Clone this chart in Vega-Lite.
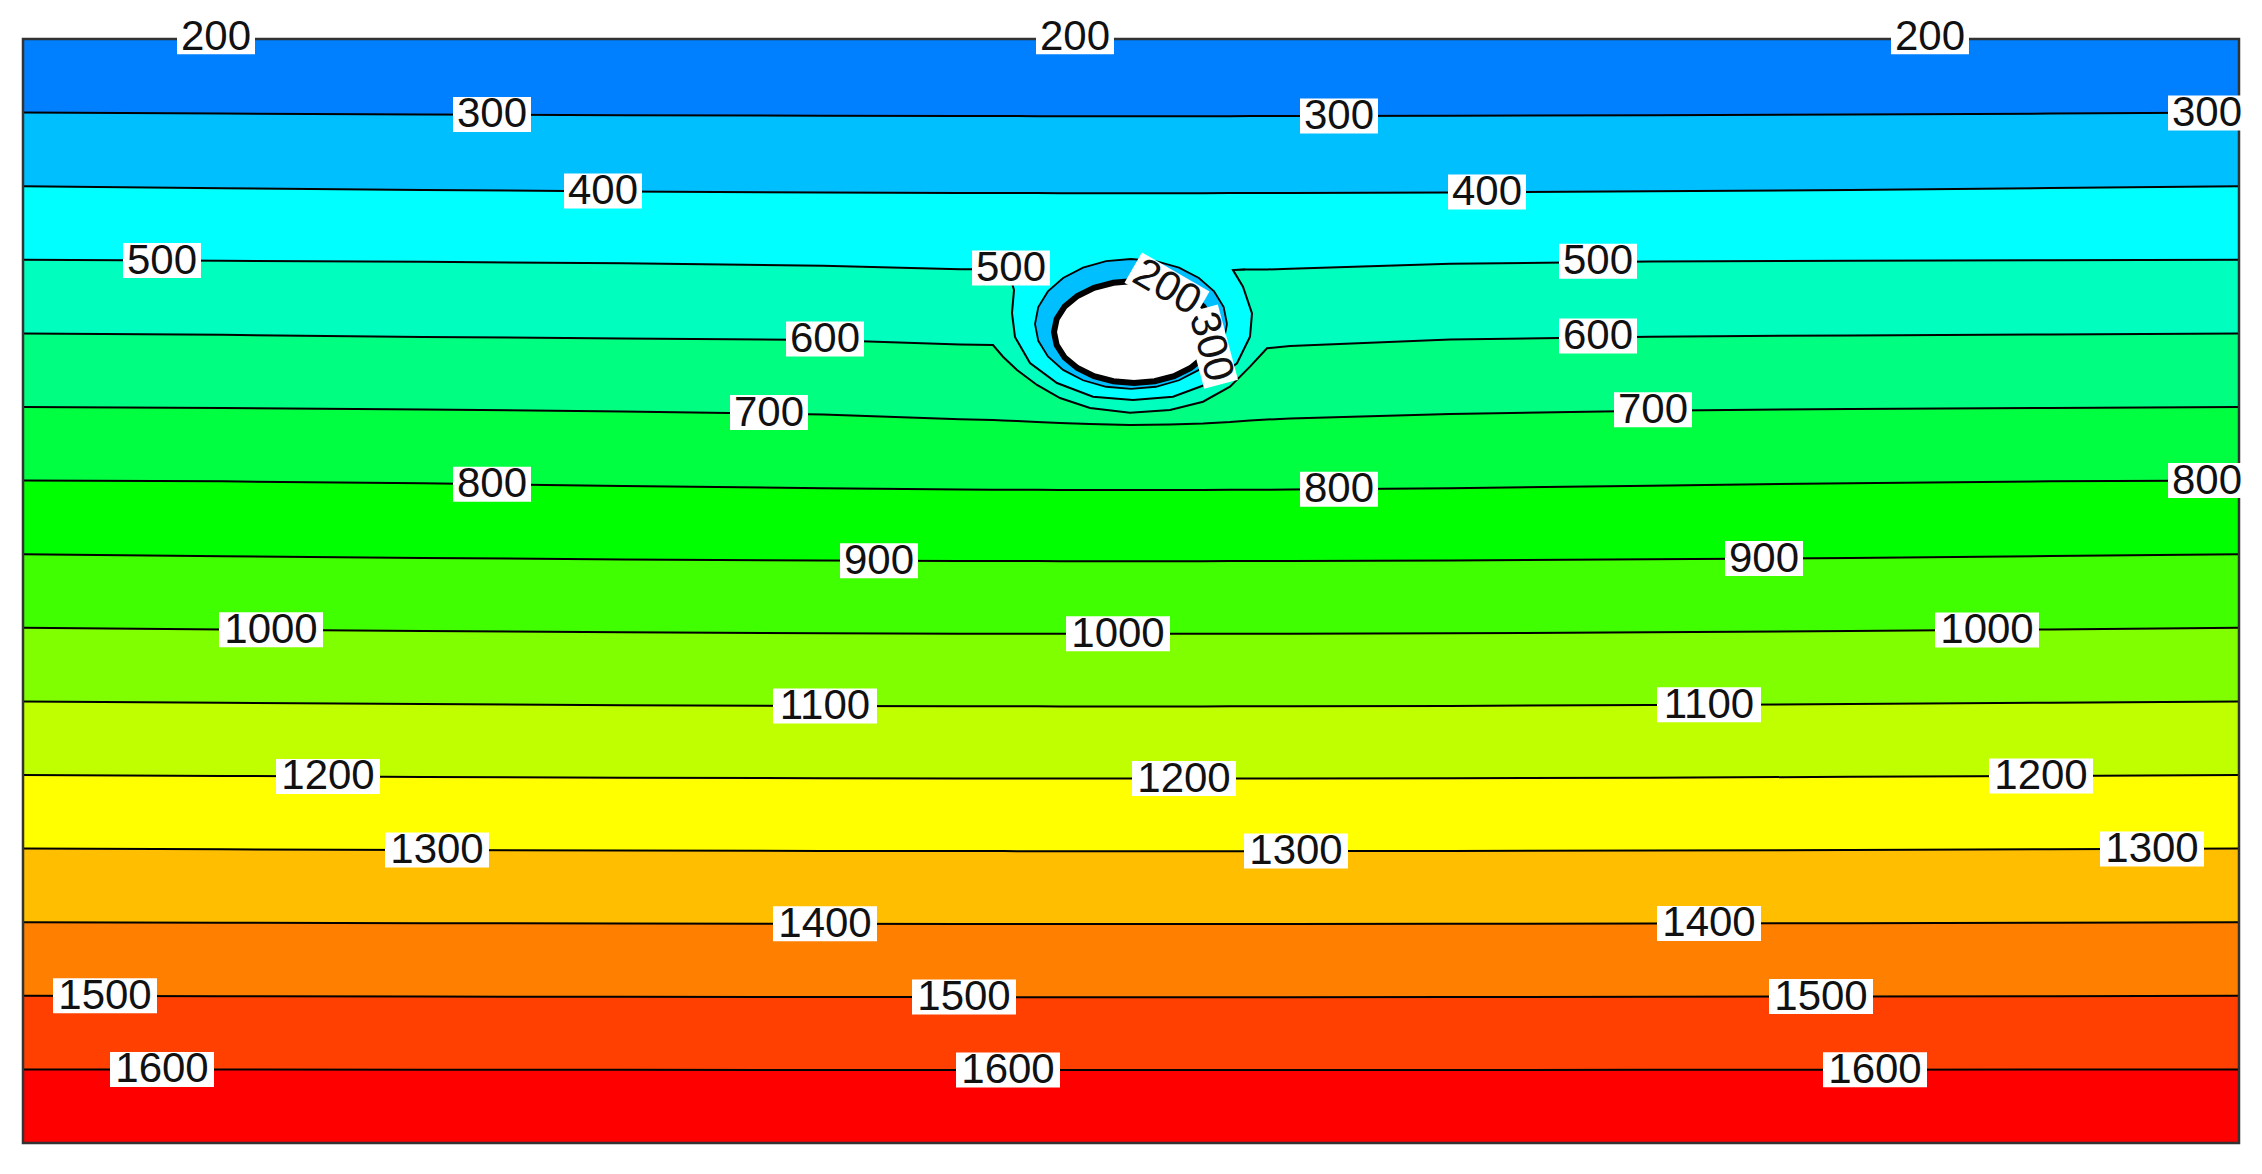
{
  "$schema": "https://vega.github.io/schema/vega-lite/v6.json",
  "width": 2216,
  "height": 1104,
  "autosize": "none",
  "padding": {"left": 23, "top": 39, "right": 23, "bottom": 31},
  "background": "white",
  "config": {"view": {"stroke": null}},
  "datasets": {
    "contours": [
      {"x":0,"L0200":200,"L0300":300,"L0400":400,"L0500":500,"L0600":600,"L0700":700,"L0800":800,"L0900":900,"L1000":1000,"L1100":1100,"L1200":1200,"L1300":1300,"L1400":1400,"L1500":1500,"L1600":1600,"L1700":1700},
      {"x":200,"L0200":200,"L0300":301.3,"L0400":402.7,"L0500":501.4,"L0600":602,"L0700":701.4,"L0800":801.0,"L0900":902.7,"L1000":1002.3,"L1100":1101.9,"L1200":1201.3,"L1300":1301.0,"L1400":1400.7,"L1500":1500.5,"L1600":1600.2,"L1700":1700},
      {"x":400,"L0200":200,"L0300":302.6,"L0400":405.1,"L0500":502.7,"L0600":604.8,"L0700":703.4,"L0800":803.7,"L0900":905.1,"L1000":1004.4,"L1100":1103.7,"L1200":1202.6,"L1300":1301.9,"L1400":1401.3,"L1500":1501.0,"L1600":1600.4,"L1700":1700},
      {"x":600,"L0200":200,"L0300":303.6,"L0400":407.1,"L0500":504.8,"L0600":606.8,"L0700":706.1,"L0800":807.2,"L0900":907.1,"L1000":1006.2,"L1100":1105.1,"L1200":1203.6,"L1300":1302.6,"L1400":1401.8,"L1500":1501.4,"L1600":1600.6,"L1700":1700},
      {"x":800,"L0200":200,"L0300":304.3,"L0400":408.6,"L0500":508.0,"L0600":608.8,"L0700":710.2,"L0800":810.5,"L0900":908.6,"L1000":1007.4,"L1100":1106.2,"L1200":1204.3,"L1300":1303.2,"L1400":1402.2,"L1500":1501.6,"L1600":1600.7,"L1700":1700},
      {"x":937,"L0200":200,"L0300":304.7,"L0400":409.2,"L0500":512.8,"L0600":615.1,"L0700":716.7,"L0800":812.1,"L0900":909.2,"L1000":1008.0,"L1100":1106.6,"L1200":1204.7,"L1300":1303.4,"L1400":1402.3,"L1500":1501.7,"L1600":1600.8,"L1700":1700},
      {"x":970,"L0200":200,"L0300":304.7,"L0400":409.3,"L0500":513.0,"L0600":615.8,"L0700":717.7,"L0800":812.3,"L0900":909.3,"L1000":1008.0,"L1100":1106.7,"L1200":1204.7,"L1300":1303.4,"L1400":1402.4,"L1500":1501.8,"L1600":1600.8,"L1700":1700},
      {"x":980,"L0200":200,"L0300":304.7,"L0400":409.3,"L0500":513.2,"L0600":631.7,"L0700":718.3,"L0800":812.4,"L0900":909.3,"L1000":1008.1,"L1100":1106.7,"L1200":1204.7,"L1300":1303.4,"L1400":1402.4,"L1500":1501.8,"L1600":1600.8,"L1700":1700},
      {"x":994,"L0200":200,"L0300":304.7,"L0400":409.4,"L0500":513.2,"L0600":649.7,"L0700":719.0,"L0800":812.5,"L0900":909.4,"L1000":1008.1,"L1100":1106.7,"L1200":1204.7,"L1300":1303.5,"L1400":1402.4,"L1500":1501.8,"L1600":1600.8,"L1700":1700},
      {"x":1014,"L0200":200,"L0300":304.8,"L0400":409.4,"L0500":513.2,"L0600":670.1,"L0700":720.4,"L0800":812.6,"L0900":909.4,"L1000":1008.1,"L1100":1106.7,"L1200":1204.8,"L1300":1303.5,"L1400":1402.4,"L1500":1501.8,"L1600":1600.8,"L1700":1700},
      {"x":1037,"L0200":200,"L0300":304.8,"L0400":409.5,"L0500":513.2,"L0600":687.8,"L0700":721.7,"L0800":812.7,"L0900":909.5,"L1000":1008.2,"L1100":1106.8,"L1200":1204.8,"L1300":1303.5,"L1400":1402.4,"L1500":1501.8,"L1600":1600.8,"L1700":1700},
      {"x":1067,"L0200":200,"L0300":304.8,"L0400":409.5,"L0500":513.2,"L0600":701.4,"L0700":723.1,"L0800":812.7,"L0900":909.5,"L1000":1008.2,"L1100":1106.8,"L1200":1204.8,"L1300":1303.5,"L1400":1402.4,"L1500":1501.8,"L1600":1600.8,"L1700":1700},
      {"x":1107,"L0200":200,"L0300":304.8,"L0400":409.5,"L0500":513.2,"L0600":707.7,"L0700":724.5,"L0800":812.8,"L0900":909.5,"L1000":1008.2,"L1100":1106.8,"L1200":1204.8,"L1300":1303.5,"L1400":1402.4,"L1500":1501.8,"L1600":1600.8,"L1700":1700},
      {"x":1147,"L0200":200,"L0300":304.8,"L0400":409.5,"L0500":513.2,"L0600":704.1,"L0700":723.8,"L0800":812.7,"L0900":909.5,"L1000":1008.2,"L1100":1106.8,"L1200":1204.8,"L1300":1303.5,"L1400":1402.4,"L1500":1501.8,"L1600":1600.8,"L1700":1700},
      {"x":1180,"L0200":200,"L0300":304.8,"L0400":409.5,"L0500":513.2,"L0600":692.8,"L0700":722.4,"L0800":812.7,"L0900":909.5,"L1000":1008.2,"L1100":1106.8,"L1200":1204.8,"L1300":1303.5,"L1400":1402.4,"L1500":1501.8,"L1600":1600.8,"L1700":1700},
      {"x":1207,"L0200":200,"L0300":304.8,"L0400":409.4,"L0500":513.2,"L0600":672.4,"L0700":720.4,"L0800":812.5,"L0900":909.4,"L1000":1008.1,"L1100":1106.7,"L1200":1204.8,"L1300":1303.5,"L1400":1402.4,"L1500":1501.8,"L1600":1600.8,"L1700":1700},
      {"x":1227,"L0200":200,"L0300":304.7,"L0400":409.4,"L0500":513.2,"L0600":645.2,"L0700":718.3,"L0800":812.4,"L0900":909.4,"L1000":1008.1,"L1100":1106.7,"L1200":1204.7,"L1300":1303.5,"L1400":1402.4,"L1500":1501.8,"L1600":1600.8,"L1700":1700},
      {"x":1244,"L0200":200,"L0300":304.7,"L0400":409.3,"L0500":513.2,"L0600":620.2,"L0700":717.0,"L0800":812.3,"L0900":909.3,"L1000":1008.1,"L1100":1106.7,"L1200":1204.7,"L1300":1303.4,"L1400":1402.4,"L1500":1501.8,"L1600":1600.8,"L1700":1700},
      {"x":1267,"L0200":200,"L0300":304.7,"L0400":409.3,"L0500":512.2,"L0600":617.1,"L0700":715.6,"L0800":812.2,"L0900":909.3,"L1000":1008.0,"L1100":1106.6,"L1200":1204.7,"L1300":1303.4,"L1400":1402.3,"L1500":1501.8,"L1600":1600.8,"L1700":1700},
      {"x":1427,"L0200":200,"L0300":304.3,"L0400":408.6,"L0500":505.4,"L0600":608.2,"L0700":709.5,"L0800":810.4,"L0900":908.6,"L1000":1007.4,"L1100":1106.1,"L1200":1204.3,"L1300":1303.2,"L1400":1402.2,"L1500":1501.6,"L1600":1600.7,"L1700":1700},
      {"x":1627,"L0200":200,"L0300":303.6,"L0400":407.0,"L0500":502.4,"L0600":604.5,"L0700":705.0,"L0800":807.0,"L0900":907.0,"L1000":1006.1,"L1100":1105.0,"L1200":1203.6,"L1300":1302.6,"L1400":1401.8,"L1500":1501.3,"L1600":1600.6,"L1700":1700},
      {"x":1827,"L0200":200,"L0300":302.5,"L0400":405.0,"L0500":501.4,"L0600":602.7,"L0700":702.7,"L0800":803.5,"L0900":905.0,"L1000":1004.3,"L1100":1103.6,"L1200":1202.5,"L1300":1301.8,"L1400":1401.3,"L1500":1500.9,"L1600":1600.4,"L1700":1700},
      {"x":2027,"L0200":200,"L0300":301.3,"L0400":402.5,"L0500":500.7,"L0600":601.4,"L0700":701.4,"L0800":800.9,"L0900":902.5,"L1000":1002.2,"L1100":1101.8,"L1200":1201.3,"L1300":1300.9,"L1400":1400.6,"L1500":1500.5,"L1600":1600.2,"L1700":1700},
      {"x":2216,"L0200":200,"L0300":300,"L0400":400,"L0500":500,"L0600":600,"L0700":700,"L0800":800,"L0900":900,"L1000":1000,"L1100":1100,"L1200":1200,"L1300":1300,"L1400":1400,"L1500":1500,"L1600":1600,"L1700":1700}
    ],
    "lobe": [
      {"i":0,"x":972,"y":512.9},{"i":1,"x":987,"y":522.0},{"i":2,"x":991,"y":541.0},{"i":3,"x":989,"y":572.3},
      {"i":4,"x":992,"y":604.9},{"i":5,"x":1007,"y":640.2},{"i":6,"x":1034,"y":667.4},{"i":7,"x":1070,"y":686.0},
      {"i":8,"x":1110,"y":690.5},{"i":9,"x":1150,"y":686.0},{"i":10,"x":1187,"y":667.4},{"i":11,"x":1214,"y":640.6},
      {"i":12,"x":1227,"y":604.5},{"i":13,"x":1229,"y":572.7},{"i":14,"x":1220,"y":536.5},{"i":15,"x":1210,"y":513.9},
      {"i":16,"x":1222,"y":512.9},{"i":17,"x":1222,"y":507},{"i":18,"x":972,"y":507}
    ],
    "ring": [
      {"i":0,"x":1204,"y":587.2},{"i":1,"x":1200.7,"y":610.1},{"i":2,"x":1191.1,"y":631.4},{"i":3,"x":1175.9,"y":649.6},
      {"i":4,"x":1156,"y":663.7},{"i":5,"x":1132.9,"y":672.5},{"i":6,"x":1108,"y":675.5},{"i":7,"x":1083.1,"y":672.5},
      {"i":8,"x":1060,"y":663.7},{"i":9,"x":1040.1,"y":649.6},{"i":10,"x":1024.9,"y":631.4},{"i":11,"x":1015.3,"y":610.1},
      {"i":12,"x":1012,"y":587.2},{"i":13,"x":1015.3,"y":564.3},{"i":14,"x":1024.9,"y":543.0},{"i":15,"x":1040.1,"y":524.8},
      {"i":16,"x":1060,"y":510.7},{"i":17,"x":1083.1,"y":501.9},{"i":18,"x":1108,"y":498.9},{"i":19,"x":1132.9,"y":501.9},
      {"i":20,"x":1156,"y":510.7},{"i":21,"x":1175.9,"y":524.8},{"i":22,"x":1191.1,"y":543.0},{"i":23,"x":1200.7,"y":564.3},
      {"i":24,"x":1204,"y":587.2}
    ],
    "hole": [
      {"i":0,"x":1191,"y":598.1},{"i":1,"x":1188.3,"y":616.0},{"i":2,"x":1180.3,"y":632.8},{"i":3,"x":1167.6,"y":647.1},
      {"i":4,"x":1151,"y":658.1},{"i":5,"x":1131.7,"y":665.0},{"i":6,"x":1111,"y":667.4},{"i":7,"x":1090.3,"y":665.0},
      {"i":8,"x":1071,"y":658.1},{"i":9,"x":1054.4,"y":647.1},{"i":10,"x":1041.7,"y":632.8},{"i":11,"x":1033.7,"y":616.0},
      {"i":12,"x":1031,"y":598.1},{"i":13,"x":1033.7,"y":580.2},{"i":14,"x":1041.7,"y":563.4},{"i":15,"x":1054.4,"y":549.1},
      {"i":16,"x":1071,"y":538.1},{"i":17,"x":1090.3,"y":531.2},{"i":18,"x":1111,"y":528.8},{"i":19,"x":1131.7,"y":531.2},
      {"i":20,"x":1151,"y":538.1},{"i":21,"x":1167.6,"y":549.1},{"i":22,"x":1180.3,"y":563.4},{"i":23,"x":1188.3,"y":580.2},
      {"i":24,"x":1191,"y":598.1}
    ],
    "labels": [
      {"t":"200","x":193,"y":197},{"t":"200","x":1052,"y":197},{"t":"200","x":1907,"y":197},
      {"t":"300","x":469,"y":302.5},{"t":"300","x":1316,"y":304.6},{"t":"300","x":2184,"y":300.4},
      {"t":"400","x":580,"y":406.5},{"t":"400","x":1464,"y":407.8},
      {"t":"500","x":139,"y":501},{"t":"500","x":988,"y":511.1},{"t":"500","x":1575,"y":502},
      {"t":"600","x":802,"y":607.6},{"t":"600","x":1575,"y":603.5},
      {"t":"700","x":746,"y":707.6},{"t":"700","x":1630,"y":703.7},
      {"t":"800","x":469,"y":804.9},{"t":"800","x":1316,"y":811.7},{"t":"800","x":2184,"y":800},
      {"t":"900","x":856,"y":908.9},{"t":"900","x":1741,"y":905.9},
      {"t":"1000","x":248,"y":1002.8},{"t":"1000","x":1095,"y":1008.2},{"t":"1000","x":1964,"y":1002.9},
      {"t":"1100","x":802,"y":1106.2},{"t":"1100","x":1686,"y":1104.6},
      {"t":"1200","x":305,"y":1202.0},{"t":"1200","x":1161,"y":1204.8},{"t":"1200","x":2018,"y":1201.3},
      {"t":"1300","x":414,"y":1301.9},{"t":"1300","x":1273,"y":1303.4},{"t":"1300","x":2129,"y":1300.4},
      {"t":"1400","x":802,"y":1402.2},{"t":"1400","x":1686,"y":1401.6},
      {"t":"1500","x":82,"y":1500.1},{"t":"1500","x":941,"y":1501.7},{"t":"1500","x":1798,"y":1501.0},
      {"t":"1600","x":139,"y":1600.1},{"t":"1600","x":985,"y":1600.8},{"t":"1600","x":1852,"y":1600.4}
    ],
    "holeLabel200": [{"t":"200","x":1144,"y":537}],
    "holeLabel300": [{"t":"300","x":1188,"y":618}]
  },
  "encoding": {
    "x": {"field": "x", "type": "quantitative", "scale": {"domain": [0, 2216], "nice": false, "zero": false}, "axis": null},
    "y": {"field": "y", "type": "quantitative", "scale": {"domain": [200, 1700], "nice": false, "zero": false, "reverse": true}, "axis": null}
  },
  "layer": [
    {
      "data": {"name": "contours"},
      "transform": [
        {"fold": ["L0200","L0300","L0400","L0500","L0600","L0700","L0800","L0900","L1000","L1100","L1200","L1300","L1400","L1500","L1600","L1700"], "as": ["level", "y"]},
        {"window": [{"op": "lead", "field": "y", "as": "next"}], "groupby": ["x"], "sort": [{"field": "level", "order": "ascending"}]},
        {"filter": "datum.level !== 'L1700'"}
      ],
      "mark": {"type": "area", "opacity": 1},
      "encoding": {
        "y2": {"field": "next"},
        "color": {
          "field": "level", "type": "nominal", "legend": null,
          "scale": {
            "domain": ["L0200","L0300","L0400","L0500","L0600","L0700","L0800","L0900","L1000","L1100","L1200","L1300","L1400","L1500","L1600"],
            "range": ["#0080FF","#00BFFF","#00FFFF","#00FFBF","#00FF80","#00FF40","#00FF00","#40FF00","#80FF00","#BFFF00","#FFFF00","#FFBF00","#FF8000","#FF4000","#FF0000"]
          }
        }
      }
    },
    {
      "data": {"name": "contours"},
      "transform": [
        {"fold": ["L0300","L0400","L0500","L0600","L0700","L0800","L0900","L1000","L1100","L1200","L1300","L1400","L1500","L1600"], "as": ["level", "y"]}
      ],
      "mark": {"type": "line", "color": "#000000", "strokeWidth": 2},
      "encoding": {"detail": {"field": "level"}}
    },
    {
      "data": {"name": "lobe"},
      "mark": {"type": "line", "fill": "#00FFFF", "strokeWidth": 0},
      "encoding": {"order": {"field": "i", "type": "quantitative"}}
    },
    {
      "data": {"name": "lobe"},
      "transform": [{"filter": "datum.i <= 16"}],
      "mark": {"type": "line", "color": "#000000", "strokeWidth": 2},
      "encoding": {"order": {"field": "i", "type": "quantitative"}}
    },
    {
      "data": {"name": "ring"},
      "mark": {"type": "line", "fill": "#00BFFF", "stroke": "#000000", "strokeWidth": 1.8},
      "encoding": {"order": {"field": "i", "type": "quantitative"}}
    },
    {
      "data": {"name": "hole"},
      "mark": {"type": "line", "fill": "#FFFFFF", "stroke": "#000000", "strokeWidth": 6},
      "encoding": {"order": {"field": "i", "type": "quantitative"}}
    },
    {
      "data": {"values": [{"x": 0, "x2": 2216, "y": 200, "y2": 1700}]},
      "mark": {"type": "rect", "filled": false, "color": "#333333", "strokeWidth": 2.5},
      "encoding": {"x2": {"field": "x2"}, "y2": {"field": "y2"}}
    },
    {
      "data": {"name": "labels"},
      "transform": [{"filter": "length(datum.t) == 3"}],
      "mark": {"type": "point", "shape": "M-0.975,-0.4375H0.975V0.4375H-0.975Z", "size": 6400, "filled": true, "color": "#FFFFFF", "opacity": 1, "strokeWidth": 0}
    },
    {
      "data": {"name": "labels"},
      "transform": [{"filter": "length(datum.t) == 4"}],
      "mark": {"type": "point", "shape": "M-1.3,-0.4375H1.3V0.4375H-1.3Z", "size": 6400, "filled": true, "color": "#FFFFFF", "opacity": 1, "strokeWidth": 0}
    },
    {
      "data": {"name": "labels"},
      "mark": {"type": "text", "font": "Liberation Sans", "fontSize": 42, "color": "#111111", "align": "center", "baseline": "middle"},
      "encoding": {"text": {"field": "t"}}
    },
    {
      "data": {"name": "holeLabel300"},
      "mark": {"type": "point", "shape": "M-0.975,-0.4375H0.975V0.4375H-0.975Z", "size": 6400, "filled": true, "color": "#FFFFFF", "opacity": 1, "strokeWidth": 0, "angle": 75}
    },
    {
      "data": {"name": "holeLabel300"},
      "mark": {"type": "text", "font": "Liberation Sans", "fontSize": 42, "color": "#111111", "align": "center", "baseline": "middle", "angle": 75},
      "encoding": {"text": {"field": "t"}}
    },
    {
      "data": {"name": "holeLabel200"},
      "mark": {"type": "point", "shape": "M-0.975,-0.4375H0.975V0.4375H-0.975Z", "size": 6400, "filled": true, "color": "#FFFFFF", "opacity": 1, "strokeWidth": 0, "angle": 30}
    },
    {
      "data": {"name": "holeLabel200"},
      "mark": {"type": "text", "font": "Liberation Sans", "fontSize": 42, "color": "#111111", "align": "center", "baseline": "middle", "angle": 30},
      "encoding": {"text": {"field": "t"}}
    }
  ]
}
